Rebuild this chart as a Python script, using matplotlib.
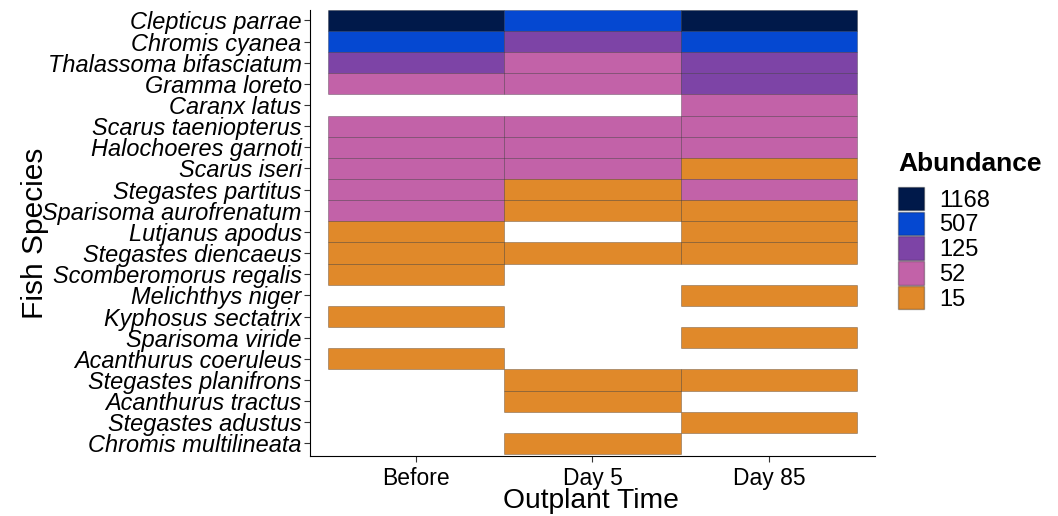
import numpy as np
import matplotlib.pyplot as plt
from matplotlib.patches import Patch

plt.rcParams['font.family'] = ['Liberation Sans', 'DejaVu Sans']

# species, top to bottom
species = ["Clepticus parrae", "Chromis cyanea", "Thalassoma bifasciatum", "Gramma loreto",
           "Caranx latus", "Scarus taeniopterus", "Halochoeres garnoti", "Scarus iseri",
           "Stegastes partitus", "Sparisoma aurofrenatum", "Lutjanus apodus",
           "Stegastes diencaeus", "Scomberomorus regalis", "Melichthys niger",
           "Kyphosus sectatrix", "Sparisoma viride", "Acanthurus coeruleus",
           "Stegastes planifrons", "Acanthurus tractus", "Stegastes adustus",
           "Chromis multilineata"]
times = ["Before", "Day 5", "Day 85"]

# abundance class per species (None = not observed)
before = [1168, 507, 125, 52, None, 52, 52, 52, 52, 52, 15, 15, 15, None, 15, None, 15,
          None, None, None, None]
day5 = [507, 125, 52, 52, None, 52, 52, 52, 15, 15, None, 15, None, None, None, None, None,
        15, 15, None, 15]
day85 = [1168, 507, 125, 125, 52, 52, 52, 15, 52, 15, 15, 15, None, 15, None, 15, None,
         15, None, 15, None]

levels = [1168, 507, 125, 52, 15]
level_colors = ["#00194a", "#0548d1", "#7d44a6", "#c262a8", "#e0892a"]
cmap = dict(zip(levels, level_colors))

fig = plt.figure(figsize=(10.58, 5.16), dpi=100)
ax = fig.add_axes([0.293, 0.116, 0.534, 0.865])

n = len(species)
ypos = np.arange(n, 0, -1)  # first species at the top
for col, vals in enumerate([before, day5, day85]):
    for y, v in zip(ypos, vals):
        if v is None:
            continue
        ax.barh(y, 1, left=col + 0.5, height=1, color=cmap[v],
                edgecolor=(0, 0, 0, 0.3), linewidth=0.6)

ax.set_xlim(0.4, 3.6)
ax.set_ylim(0.4, n + 0.5)
ax.set_xticks([1, 2, 3])
ax.set_xticklabels(times, fontsize=16.5)
ax.set_yticks(ypos)
ax.set_yticklabels(species, fontsize=16.9, style='italic')
ax.tick_params(length=4, width=0.8, color='#333333', labelcolor='black')
ax.tick_params(axis='y', pad=2)
ax.tick_params(axis='x', pad=4)
ax.spines['top'].set_visible(False)
ax.spines['right'].set_visible(False)
ax.set_xlabel("Outplant Time", fontsize=20.3)
ax.set_ylabel("Fish Species", fontsize=21.5)
ax.xaxis.set_label_coords(0.498, -0.072)
ax.yaxis.set_label_coords(-0.462, 0.5)

# legend title drawn separately so the gap under it matches
fig.text(898 / 1058, 1 - 152 / 516, "Abundance", fontsize=19, weight='bold',
         ha='left', va='top')
handles = [Patch(facecolor=c, edgecolor=(0, 0, 0, 0.3), label=str(l))
           for l, c in zip(levels, level_colors)]
leg = fig.legend(handles=handles, loc='upper left',
                 bbox_to_anchor=(898 / 1058, 1 - 187 / 516), frameon=False, fontsize=17,
                 labelspacing=0, handlelength=1.1, handleheight=1.15,
                 handletextpad=0.65, borderpad=0, borderaxespad=0)

fig.savefig("out.png", dpi=100)
